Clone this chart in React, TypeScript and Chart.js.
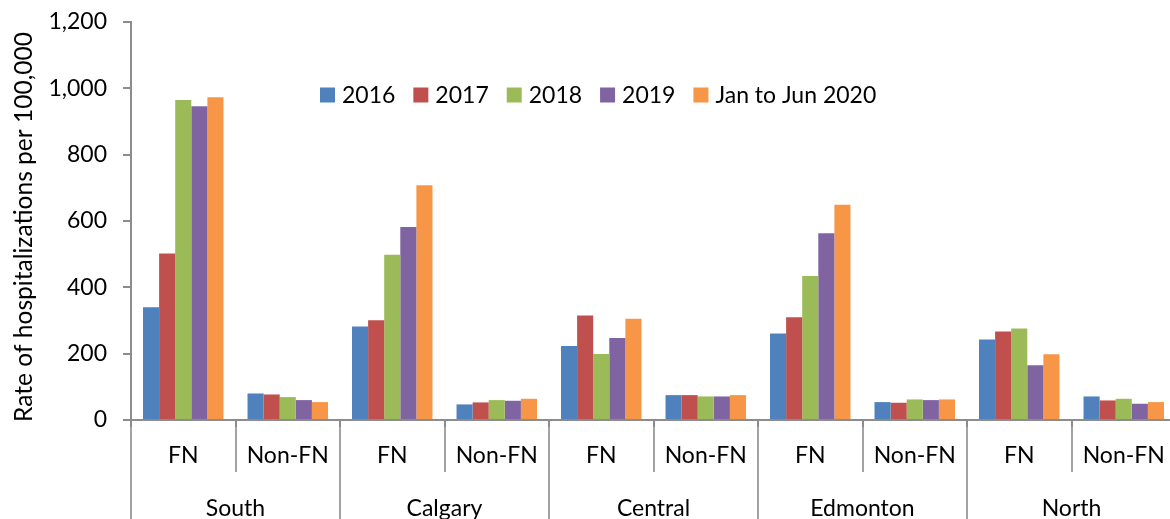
import React, { useEffect, useRef } from 'react';
import { Chart, registerables } from 'chart.js';

Chart.register(...registerables);

const REGIONS = ['South', 'Calgary', 'Central', 'Edmonton', 'North'];
const SUBGROUPS = ['FN', 'Non-FN'];
const SERIES_LABELS = ['2016', '2017', '2018', '2019', 'Jan to Jun 2020'];
const SERIES_COLORS = ['#4F81BD', '#C0504D', '#9BBB59', '#8064A2', '#F79646'];

// order: South FN, South Non-FN, Calgary FN, Calgary Non-FN, ... North Non-FN
const V2016 = [340, 80, 282, 47, 223, 75, 261, 54, 243, 71];
const V2017 = [502, 77, 301, 53, 315, 75, 310, 52, 267, 59];
const V2018 = [965, 69, 498, 60, 199, 71, 434, 62, 276, 64];
const V2019 = [946, 60, 582, 58, 247, 71, 563, 60, 165, 49];
const V2020 = [973, 54, 708, 64, 305, 75, 649, 62, 198, 54];
const SERIES_VALUES = [V2016, V2017, V2018, V2019, V2020];

const Y_TITLE = 'Rate of hospitalizations per 100,000';
const Y_MIN = 0;
const Y_MAX = 1200;
const Y_STEP = 200;

const FONT_FAMILY = 'Lato';
const FONT_SIZE = 23;
const AXIS_COLOR = '#8c8c8c';
const DIVIDER_COLOR = '#a3a3a3';

const yTitlePlugin = {
  id: 'yTitle',
  afterDraw(chart: any) {
    const { ctx } = chart;
    const targetLen = 390;
    ctx.save();
    ctx.font = `${FONT_SIZE}px ${FONT_FAMILY}`;
    const w = ctx.measureText(Y_TITLE).width;
    const size = Math.min(30, Math.max(18, (FONT_SIZE * targetLen) / w));
    ctx.font = `${size.toFixed(2)}px ${FONT_FAMILY}`;
    ctx.fillStyle = '#000';
    ctx.textAlign = 'center';
    ctx.textBaseline = 'alphabetic';
    ctx.translate(32, 227);
    ctx.rotate(-Math.PI / 2);
    ctx.fillText(Y_TITLE, 0, 0);
    ctx.restore();
  },
};

const groupAxisPlugin = {
  id: 'groupAxis',
  afterDraw(chart: any) {
    const { ctx, chartArea } = chart;
    const x = chart.scales.x;
    const n = REGIONS.length * SUBGROUPS.length;
    const step = x.getPixelForValue(1) - x.getPixelForValue(0);
    const bottom = chartArea.bottom;
    const H = chart.height;
    ctx.save();
    for (let i = 0; i <= n; i++) {
      const bx = Math.round(x.getPixelForValue(0) + (i - 0.5) * step);
      const isRegion = i % SUBGROUPS.length === 0;
      ctx.strokeStyle = DIVIDER_COLOR;
      ctx.lineWidth = 2;
      ctx.beginPath();
      ctx.moveTo(bx, bottom);
      ctx.lineTo(bx, isRegion ? H : bottom + 52);
      ctx.stroke();
      ctx.strokeStyle = AXIS_COLOR;
      ctx.beginPath();
      ctx.moveTo(bx, bottom);
      ctx.lineTo(bx, bottom + 7);
      ctx.stroke();
    }
    ctx.fillStyle = '#000';
    ctx.font = `${FONT_SIZE}px ${FONT_FAMILY}`;
    ctx.textAlign = 'center';
    ctx.textBaseline = 'alphabetic';
    REGIONS.forEach((region, r) => {
      SUBGROUPS.forEach((sub, s) => {
        const idx = r * SUBGROUPS.length + s;
        ctx.fillText(sub, x.getPixelForValue(idx), bottom + 43);
      });
      const first = x.getPixelForValue(r * SUBGROUPS.length);
      const last = x.getPixelForValue(r * SUBGROUPS.length + SUBGROUPS.length - 1);
      ctx.fillText(region, (first + last) / 2, bottom + 96);
    });
    ctx.restore();
  },
};

const legendPlugin = {
  id: 'innerLegend',
  afterDraw(chart: any) {
    const { ctx } = chart;
    const startX = 320;
    const centerY = 95;
    const box = 15;
    ctx.save();
    ctx.font = `${FONT_SIZE}px ${FONT_FAMILY}`;
    ctx.textBaseline = 'middle';
    ctx.textAlign = 'left';
    let cx = startX;
    chart.data.datasets.forEach((ds: any) => {
      ctx.fillStyle = ds.backgroundColor;
      ctx.fillRect(cx, centerY - box / 2, box, box);
      ctx.fillStyle = '#000';
      const tx = cx + box + 7;
      ctx.fillText(ds.label, tx, centerY + 1);
      cx = tx + ctx.measureText(ds.label).width + 18;
    });
    ctx.restore();
  },
};

export default function App() {
  const canvasRef = useRef<HTMLCanvasElement | null>(null);

  useEffect(() => {
    const canvas = canvasRef.current;
    if (!canvas) return;
    const labels: string[] = [];
    REGIONS.forEach((r) => SUBGROUPS.forEach((s) => labels.push(`${r} ${s}`)));
    const font = { family: FONT_FAMILY, size: FONT_SIZE };
    const chart = new Chart(canvas, {
      type: 'bar',
      data: {
        labels,
        datasets: SERIES_LABELS.map((label, i) => ({
          label,
          data: SERIES_VALUES[i],
          backgroundColor: SERIES_COLORS[i],
          borderWidth: 0,
          categoryPercentage: 0.77,
          barPercentage: 1,
        })),
      },
      options: {
        responsive: false,
        animation: false,
        devicePixelRatio: 1,
        layout: { padding: { top: 22, right: 0, bottom: 0, left: 0 } },
        plugins: {
          legend: { display: false },
          tooltip: { enabled: false },
          title: { display: false },
        },
        scales: {
          x: {
            grid: { display: false },
            ticks: { display: false },
            border: { display: true, color: AXIS_COLOR, width: 2 },
            afterFit: (s: any) => {
              s.height = 99;
            },
          },
          y: {
            min: Y_MIN,
            max: Y_MAX,
            ticks: {
              stepSize: Y_STEP,
              padding: 16,
              color: '#000',
              font,
              callback: (v: any) => Number(v).toLocaleString('en-US'),
            },
            grid: {
              drawOnChartArea: false,
              drawTicks: true,
              tickLength: 8,
              color: AXIS_COLOR,
              lineWidth: 2,
            },
            border: { display: true, color: AXIS_COLOR, width: 2 },
            title: { display: false },
            afterFit: (s: any) => {
              s.width = 131;
              s.paddingTop = 0;
              s.paddingBottom = 0;
            },
          },
        },
      } as any,
      plugins: [groupAxisPlugin, legendPlugin, yTitlePlugin],
    });
    return () => chart.destroy();
  }, []);

  return (
    <div
      style={{
        position: 'absolute',
        left: 0,
        top: 0,
        width: 1170,
        height: 519,
        overflow: 'hidden',
        background: '#fff',
      }}
    >
      <canvas ref={canvasRef} width={1176} height={519} style={{ display: 'block' }} />
    </div>
  );
}
